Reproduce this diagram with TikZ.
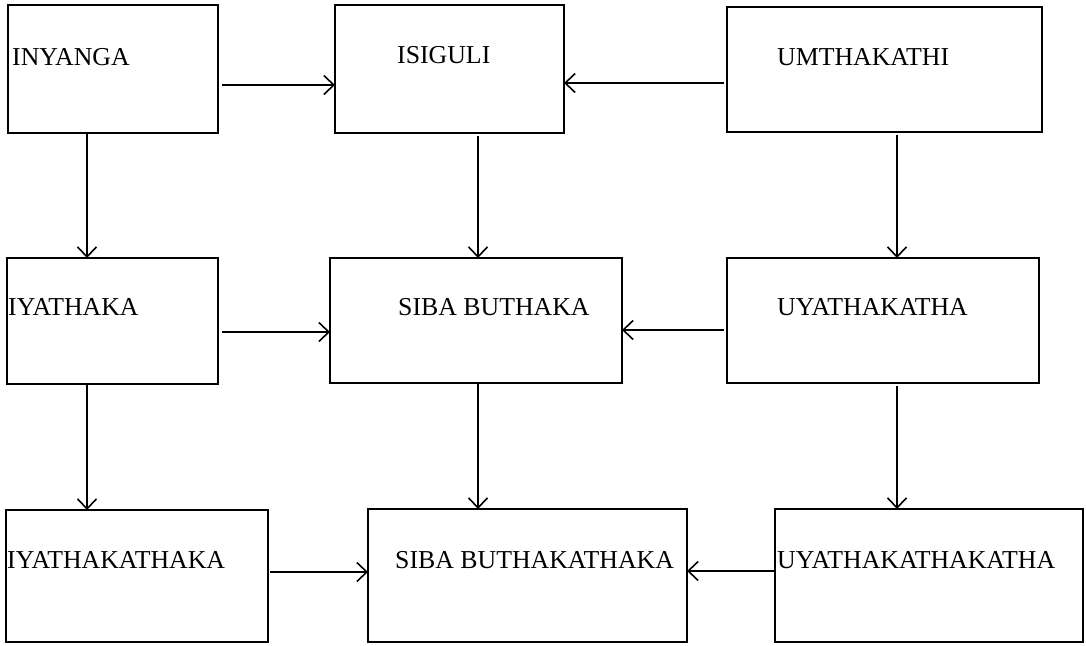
\documentclass[tikz,border=0pt]{standalone}
\usepackage{fontspec}
\setmainfont{Liberation Serif}
\usetikzlibrary{arrows.meta}
\begin{document}
\begin{tikzpicture}[x=1pt,y=-1pt,
  box/.style={draw,line width=1.6pt,inner sep=0pt,outer sep=0pt},
  lbl/.style={anchor=base west,inner sep=0pt,font=\fontsize{25.8}{30}\selectfont},
  arr/.style={line width=1.3pt,-{Straight Barb[length=10pt,width=19pt,line width=1.6pt]}},
]
\useasboundingbox (0,0) rectangle (1086,645);
% boxes
\node[box,minimum width=210pt,minimum height=128pt] (a1) at (113,69) {};
\node[box,minimum width=229pt,minimum height=128pt] (a2) at (449.5,69) {};
\node[box,minimum width=315pt,minimum height=125pt] (a3) at (884.5,69.5) {};
\node[box,minimum width=211pt,minimum height=126pt] (a4) at (112.5,321) {};
\node[box,minimum width=292pt,minimum height=125pt] (a5) at (476,320.5) {};
\node[box,minimum width=312pt,minimum height=125pt] (a6) at (883,320.5) {};
\node[box,minimum width=262pt,minimum height=132pt] (a7) at (137,576) {};
\node[box,minimum width=319pt,minimum height=133pt] (a8) at (527.5,575.5) {};
\node[box,minimum width=308pt,minimum height=133pt] (a9) at (929,575.5) {};
% labels
\node[lbl] (t1) at (12,65) {INYANGA};
\node[lbl] (t2) at (397,63) {ISIGULI};
\node[lbl] (t3) at (777,65) {UMTHAKATHI};
\node[lbl] (t4) at (8,315) {IYATHAKA};
\node[lbl] (t5) at (398,315) {SIBA BUTHAKA};
\node[lbl] (t6) at (777,315) {UYATHAKATHA};
\node[lbl] (t7) at (7,568) {IYATHAKATHAKA};
\node[lbl] (t8) at (395,568) {SIBA BUTHAKATHAKA};
\node[lbl] (t9) at (777,568) {UYATHAKATHAKATHA};
% guide coordinates
\coordinate (c1) at (87,0);
\coordinate (c2) at (478,0);
\coordinate (c3) at (897,0);
\coordinate (r1a) at (0,85);
\coordinate (r1b) at (0,83);
\coordinate (r2a) at (0,332);
\coordinate (r2b) at (0,330);
\coordinate (r3a) at (0,572);
\coordinate (r3b) at (0,571);
% horizontal arrows
\draw[arr,shorten <=4pt] (a1.east |- r1a) -- (a2.west |- r1a);
\draw[arr,shorten <=3pt] (a3.west |- r1b) -- (a2.east |- r1b);
\draw[arr,shorten <=4pt] (a4.east |- r2a) -- (a5.west |- r2a);
\draw[arr,shorten <=3pt] (a6.west |- r2b) -- (a5.east |- r2b);
\draw[arr,shorten <=2pt] (a7.east |- r3a) -- (a8.west |- r3a);
\draw[arr] (a9.west |- r3b) -- (a8.east |- r3b);
% vertical arrows
\draw[arr] (a1.south -| c1) -- (a4.north -| c1);
\draw[arr] (a4.south -| c1) -- (a7.north -| c1);
\draw[arr,shorten <=3pt] (a2.south -| c2) -- (a5.north -| c2);
\draw[arr] (a5.south -| c2) -- (a8.north -| c2);
\draw[arr,shorten <=3pt] (a3.south -| c3) -- (a6.north -| c3);
\draw[arr,shorten <=3pt] (a6.south -| c3) -- (a9.north -| c3);
\end{tikzpicture}
\end{document}
